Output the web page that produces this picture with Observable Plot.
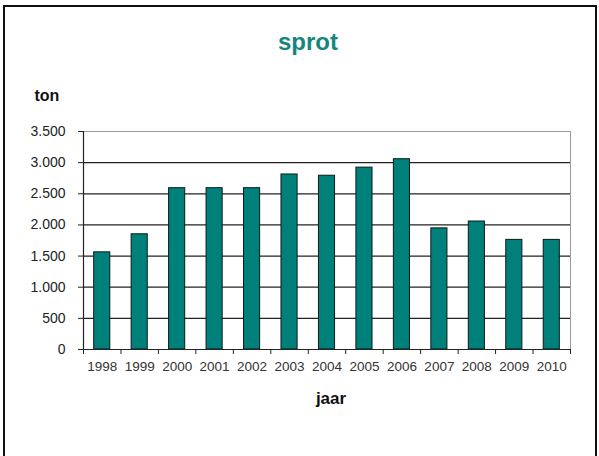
<!DOCTYPE html>
<html>
<head>
<meta charset="utf-8">
<script src="https://cdn.jsdelivr.net/npm/d3@7"></script>
<script src="https://cdn.jsdelivr.net/npm/@observablehq/plot@0.6"></script>
<style>
  body { margin: 0; background: #fff; }
  #wrap { position: relative; width: 599px; height: 456px; overflow: hidden; }
  #border { position: absolute; left: 3px; top: 5px; width: 590px; height: 470px;
            border: 2px solid #111; pointer-events: none; }
  svg { display: block; }
</style>
</head>
<body>
<div id="wrap"><div id="chart"></div><div id="border"></div></div>
<script>
const years  = [1998, 1999, 2000, 2001, 2002, 2003, 2004, 2005, 2006, 2007, 2008, 2009, 2010];
const values = [1560, 1850, 2590, 2590, 2590, 2810, 2790, 2920, 3055, 1945, 2055, 1760, 1760];
const yTicks = [0, 500, 1000, 1500, 2000, 2500, 3000, 3500];
const title  = "sprot";
const yLabel = "ton";
const xLabel = "jaar";

const data = years.map((year, i) => ({year, value: values[i]}));
const boundaries = years.map(y => y - 0.5).concat([years[years.length - 1] + 0.5]);
const fmt = d => d3.format(",")(d).replace(/,/g, ".");
const font = "'Liberation Sans', Arial, sans-serif";
const half = 0.215;

const chart = Plot.plot({
  width: 599,
  height: 456,
  marginLeft: 83,
  marginRight: 29,
  marginTop: 131,
  marginBottom: 107,
  style: {fontFamily: font, background: "transparent", overflow: "visible"},
  x: {type: "linear", domain: [boundaries[0], boundaries[boundaries.length - 1]], axis: null},
  y: {domain: [0, 3500], axis: null},
  marks: [
    Plot.ruleY(yTicks.slice(0, -1), {stroke: "#222", strokeWidth: 1.2}),
    Plot.ruleY([yTicks[yTicks.length - 1]], {stroke: "#9a9a9a", strokeWidth: 1}),
    Plot.ruleX([boundaries[boundaries.length - 1]], {stroke: "#9a9a9a", strokeWidth: 1}),
    Plot.rectY(data, {
      x1: d => d.year - half,
      x2: d => d.year + half,
      y: "value",
      fill: "#00807b",
      stroke: "#0d1a18",
      strokeWidth: 1
    }),
    Plot.ruleX([boundaries[0]], {stroke: "#222", strokeWidth: 1.2}),
    Plot.ruleY([0], {stroke: "#222", strokeWidth: 1.2}),
    Plot.axisY({ticks: yTicks, tickSize: 5, tickPadding: 13, tickFormat: fmt,
                fontSize: 14, color: "#222", label: null}),
    Plot.axisX({ticks: boundaries, tickSize: 5, tickFormat: () => "", label: null, color: "#222"}),
    Plot.axisX({ticks: years, tickSize: 0, tickPadding: 12, tickFormat: d => String(d),
                fontSize: 13.5, color: "#333", label: null}),
    Plot.text([title], {frameAnchor: "top", dx: -19, dy: -89, text: d => d, fontSize: 24,
                        fontWeight: "bold", fill: "#17857b", lineAnchor: "middle"}),
    Plot.text([yLabel], {frameAnchor: "top-left", dx: -49, dy: -36, text: d => d, fontSize: 16,
                         fontWeight: "bold", fill: "#111", textAnchor: "start", lineAnchor: "middle"}),
    Plot.text([xLabel], {frameAnchor: "bottom", dx: 4, dy: 49, text: d => d, fontSize: 17,
                         fontWeight: "bold", fill: "#111", lineAnchor: "middle"})
  ]
});
document.getElementById("chart").append(chart);
</script>
</body>
</html>
